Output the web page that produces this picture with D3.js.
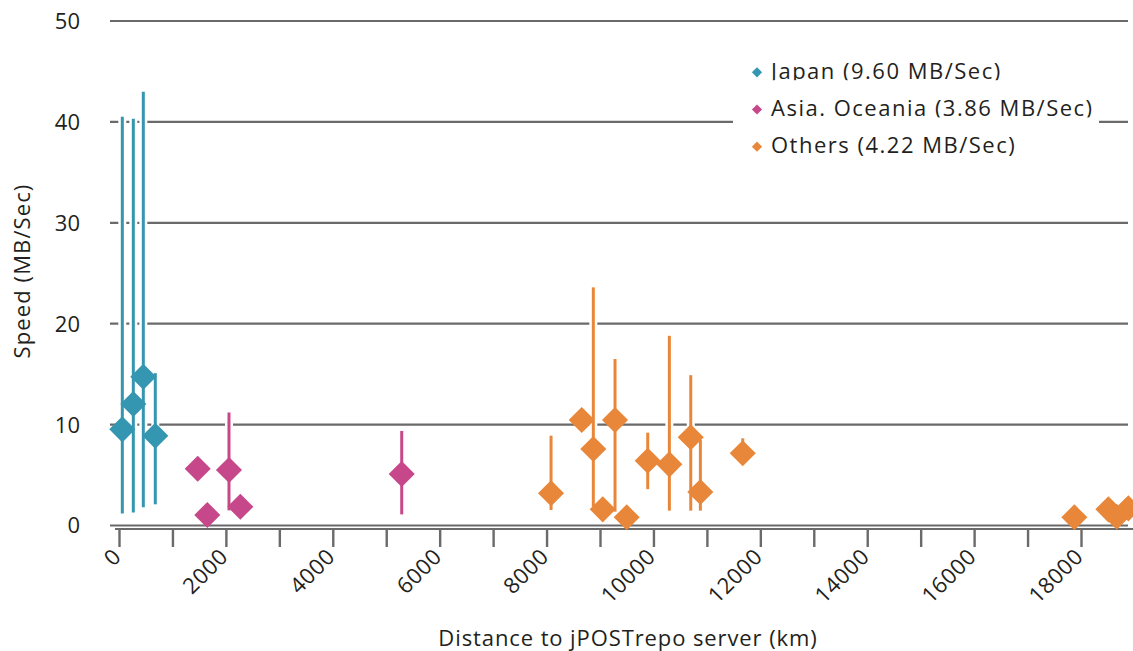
<!DOCTYPE html>
<html>
<head>
<meta charset="utf-8">
<script src="https://cdn.jsdelivr.net/npm/d3@7/dist/d3.min.js"></script>
<style>
  html, body { margin: 0; padding: 0; background: #fff; }
  svg { display: block; }
  text { font-family: "Open Sans", "Noto Sans", sans-serif; fill: #231f20; }
</style>
</head>
<body>
<svg id="chart" width="1133" height="651"></svg>
<script>
// ---------------- data ----------------
const seriesNames = ["Japan (9.60 MB/Sec)", "Asia. Oceania (3.86 MB/Sec)", "Others (4.22 MB/Sec)"];
const seriesColors = ["#3596b1", "#c6488a", "#e8873a"];

const japanDistance = [62, 268, 455, 679];
const japanSpeed    = [9.53, 12.04, 14.75, 8.9];
const japanLow      = [1.2, 1.3, 1.8, 2.1];
const japanHigh     = [40.5, 40.3, 43.0, 15.1];

const asiaDistance = [1473, 1652, 2058, 2270, 5290];
const asiaSpeed    = [5.63, 1.04, 5.5, 1.86, 5.1];
const asiaLow      = [null, null, 1.5, null, 1.1];
const asiaHigh     = [null, null, 11.2, null, 9.37];

const othersDistance = [8084, 8658, 8875, 9051, 9281, 9500, 9893, 10298, 10698, 10878, 11671, 17876, 18512, 18669, 18886];
const othersSpeed    = [3.19, 10.46, 7.58, 1.6, 10.46, 0.81, 6.42, 6.06, 8.74, 3.32, 7.16, 0.81, 1.6, 0.87, 1.7];
const othersLow      = [1.54, null, 1.86, null, 1.37, null, 3.6, 1.47, 1.47, 1.47, 6.5, null, null, null, null];
const othersHigh     = [8.9, null, 23.6, null, 16.5, null, 9.2, 18.8, 14.9, 8.5, 8.64, null, null, null, null];

const yTicks = [0, 10, 20, 30, 40, 50];
const xTicks = [0, 1000, 2000, 3000, 4000, 5000, 6000, 7000, 8000, 9000, 10000, 11000, 12000, 13000, 14000, 15000, 16000, 17000, 18000];
const xTickLabels = ["0", "", "2000", "", "4000", "", "6000", "", "8000", "", "10000", "", "12000", "", "14000", "", "16000", "", "18000"];

const xTitle = "Distance to jPOSTrepo server (km)";
const yTitle = "Speed (MB/Sec)";

// ---------------- build ----------------
const svg = d3.select("#chart");
const x = d3.scaleLinear().domain([0, 18000]).range([119, 1081]);
const y = d3.scaleLinear().domain([0, 50]).range([525.5, 21]);

const series = [
  {dist: japanDistance, speed: japanSpeed, lo: japanLow, hi: japanHigh},
  {dist: asiaDistance, speed: asiaSpeed, lo: asiaLow, hi: asiaHigh},
  {dist: othersDistance, speed: othersSpeed, lo: othersLow, hi: othersHigh}
];
const points = [];
series.forEach((s, si) => {
  s.dist.forEach((d, i) => points.push({si, d, v: s.speed[i], lo: s.lo[i], hi: s.hi[i]}));
});

const gridColor = "#6a6a6a";

// gridlines
svg.append("g").selectAll("line").data(yTicks).join("line")
  .attr("x1", 110).attr("x2", 1128)
  .attr("y1", d => y(d)).attr("y2", d => y(d))
  .attr("stroke", gridColor).attr("stroke-width", 2.2);

// y tick labels
svg.append("g").selectAll("text").data(yTicks).join("text")
  .attr("x", 80).attr("y", d => y(d))
  .attr("dy", "0.36em")
  .attr("text-anchor", "end")
  .attr("font-size", 22)
  .text(d => d);

// x axis
const xAxis = d3.axisBottom(x)
  .tickValues(xTicks)
  .tickSize(18)
  .tickSizeOuter(0)
  .tickFormat((d, i) => xTickLabels[i]);
const gx = svg.append("g").attr("transform", "translate(0,529)").call(xAxis);
gx.select(".domain").remove();
gx.append("line").attr("x1", 115).attr("x2", 1133).attr("y1", 0).attr("y2", 0)
  .attr("stroke", gridColor).attr("stroke-width", 2.2);
gx.selectAll(".tick line").attr("stroke", gridColor).attr("stroke-width", 2.4);
gx.selectAll(".tick text")
  .attr("font-size", 22)
  .attr("font-family", "'Open Sans', sans-serif")
  .attr("fill", "#231f20")
  .attr("text-anchor", "end")
  .attr("x", null).attr("y", null).attr("dy", null)
  .attr("transform", "translate(3,29) rotate(-45)")
  .style("letter-spacing", "0.6px");

// error bars: halos first
const withBars = points.filter(p => p.lo != null && p.hi != null);
svg.append("g").selectAll("line").data(withBars).join("line")
  .attr("x1", p => x(p.d)).attr("x2", p => x(p.d))
  .attr("y1", p => y(p.hi)).attr("y2", p => y(p.lo))
  .attr("stroke", "#fff").attr("stroke-width", 8);
svg.append("g").selectAll("line").data(withBars).join("line")
  .attr("x1", p => x(p.d)).attr("x2", p => x(p.d))
  .attr("y1", p => y(p.hi)).attr("y2", p => y(p.lo))
  .attr("stroke", p => seriesColors[p.si]).attr("stroke-width", 3);

// diamonds
const diamond = d3.symbol().type(d3.symbolSquare).size(340);
svg.append("g").selectAll("path").data(points).join("path")
  .attr("d", diamond)
  .attr("transform", p => `translate(${x(p.d)},${y(p.v)}) rotate(45)`)
  .attr("fill", p => seriesColors[p.si]);

// legend
const legendDiamond = d3.symbol().type(d3.symbolSquare).size(52);
const lg = svg.append("g");
seriesNames.forEach((name, i) => {
  const cy = 72.3 + i * 37.2;
  const g = lg.append("g");
  g.append("rect").attr("x", 733).attr("y", cy - 29.3).attr("width", 366).attr("height", 50).attr("fill", "#fff");
  g.append("path").attr("d", legendDiamond)
    .attr("transform", `translate(757,${cy}) rotate(45)`)
    .attr("fill", seriesColors[i]);
  g.append("text").attr("x", 771).attr("y", cy + 6.3)
    .attr("font-size", 22)
    .style("letter-spacing", "1.5px")
    .text(name);
});

// axis titles
svg.append("text").attr("x", 628).attr("y", 645.5)
  .attr("text-anchor", "middle").attr("font-size", 22)
  .style("letter-spacing", "0.9px")
  .text(xTitle);
svg.append("text")
  .attr("transform", "translate(30,271) rotate(-90)")
  .attr("text-anchor", "middle").attr("font-size", 22)
  .style("letter-spacing", "1.1px")
  .text(yTitle);
</script>
</body>
</html>
